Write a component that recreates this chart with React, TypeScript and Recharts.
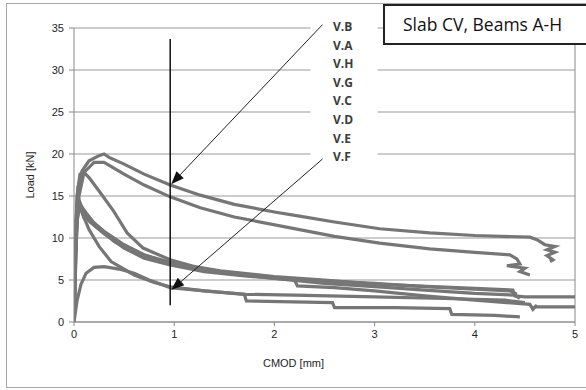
import {
  CartesianGrid,
  Line,
  LineChart,
  ReferenceArea,
  ReferenceLine,
  XAxis,
  YAxis,
} from 'recharts';

// CMOD [mm] / Load [kN], one pair of arrays per beam
const vbX = [0, 0.01, 0.02, 0.04, 0.08, 0.15, 0.25, 0.3, 0.35, 0.5, 0.7, 0.96, 1.26, 1.6, 2.0, 2.25, 2.6, 3.05, 3.55, 4.0, 4.55, 4.62, 4.7, 4.8, 4.72, 4.8, 4.72, 4.78, 4.75];
const vbY = [0, 5, 12, 16, 18, 19.2, 19.8, 20, 19.6, 18.8, 17.6, 16.3, 15.1, 14.0, 13.1, 12.6, 11.9, 11.1, 10.6, 10.3, 10.1, 9.8, 9.2, 9.0, 8.6, 8.3, 7.9, 7.4, 7.2];

const vaX = [0, 0.02, 0.05, 0.1, 0.2, 0.3, 0.5, 0.7, 0.96, 1.26, 1.6, 2.25, 2.6, 3.05, 3.55, 4.0, 4.35, 4.42, 4.45, 4.32, 4.5, 4.45, 4.55];
const vaY = [0, 10, 15, 17.8, 19.0, 19.0, 17.6, 16.3, 14.9, 13.6, 12.5, 11.0, 10.2, 9.4, 8.7, 8.3, 8.0, 7.5, 6.9, 6.7, 6.4, 6.0, 5.6];

const vhX = [0, 0.01, 0.03, 0.06, 0.1, 0.15, 0.25, 0.39, 0.53, 0.69, 0.96, 1.2, 1.46, 2.0, 2.5, 3.0, 4.0, 4.38, 4.4, 4.5, 5.0];
const vhY = [0, 8, 15, 17.6, 17.8, 17.2, 15.6, 13.3, 10.6, 8.8, 7.4, 6.6, 6.1, 5.4, 5.0, 4.5, 4.0, 3.8, 3.1, 3.0, 3.0];

const vgX = [0, 0.02, 0.04, 0.08, 0.1, 0.15, 0.3, 0.5, 0.7, 0.96, 1.3, 1.6, 2.0, 2.5, 3.0, 3.5, 4.0, 4.4, 4.45];
const vgY = [0, 9, 13.5, 13.2, 12.4, 12.3, 10.8, 9.2, 8.0, 7.0, 6.2, 5.7, 5.2, 4.6, 4.2, 3.8, 3.4, 3.2, 2.8];

const vcX = [0, 0.02, 0.05, 0.1, 0.15, 0.3, 0.5, 0.7, 0.96, 1.3, 1.7, 2.2, 2.23, 2.6, 3.0, 3.5, 4.0, 4.55, 4.58, 4.62, 4.6, 5.0];
const vcY = [0, 11, 14.5, 13, 12, 10.5, 8.8, 7.6, 6.8, 6.0, 5.5, 5.0, 4.3, 4.1, 3.7, 3.1, 2.6, 2.1, 1.5, 2.0, 1.8, 1.8];

const vdX = [0, 0.02, 0.04, 0.08, 0.15, 0.25, 0.37, 0.6, 0.8, 0.96, 1.3, 1.7, 2.2, 3.0, 3.7, 4.3, 4.5];
const vdY = [0, 12, 15, 13, 11, 9, 7.2, 5.6, 4.7, 4.2, 3.7, 3.3, 3.2, 3.0, 2.8, 2.6, 2.3];

const veX = [0, 0.03, 0.06, 0.12, 0.2, 0.4, 0.6, 0.96, 1.5, 2.0, 2.5, 3.0, 3.5, 4.0, 4.35, 4.42];
const veY = [0, 12, 14, 13, 11.8, 9.6, 8.3, 7.1, 5.9, 5.3, 4.9, 4.6, 4.2, 3.9, 3.7, 3.3];

const vfX = [0, 0.03, 0.07, 0.12, 0.2, 0.3, 0.45, 0.6, 0.75, 0.96, 1.3, 1.7, 1.72, 2.58, 2.6, 3.2, 3.75, 3.77, 4.2, 4.45];
const vfY = [0, 2.5, 4.5, 5.8, 6.5, 6.6, 6.3, 5.8, 5.0, 4.1, 3.7, 3.3, 2.5, 2.3, 1.7, 1.7, 1.6, 0.9, 0.8, 0.6];

const labels = ['V.B', 'V.A', 'V.H', 'V.G', 'V.C', 'V.D', 'V.E', 'V.F'];
const xTicks = [0, 1, 2, 3, 4, 5];
const yTicks = [0, 5, 10, 15, 20, 25, 30, 35];

const toPoints = (xs: number[], ys: number[]) => xs.map((x, i) => ({ x, y: ys[i] }));

const series = [
  { name: 'V.B', data: toPoints(vbX, vbY) },
  { name: 'V.A', data: toPoints(vaX, vaY) },
  { name: 'V.H', data: toPoints(vhX, vhY) },
  { name: 'V.G', data: toPoints(vgX, vgY) },
  { name: 'V.C', data: toPoints(vcX, vcY) },
  { name: 'V.D', data: toPoints(vdX, vdY) },
  { name: 'V.E', data: toPoints(veX, veY) },
  { name: 'V.F', data: toPoints(vfX, vfY) },
];

const tickFont = { fontFamily: 'Liberation Sans, Arial, sans-serif', fontSize: 11, fill: '#1e1e1e' };

function Arrow(props: any) {
  const { x1, y1, x2, y2 } = props;
  if ([x1, y1, x2, y2].some((v) => typeof v !== 'number')) return null;
  const ang = Math.atan2(y2 - y1, x2 - x1);
  const len = 13;
  const half = 5;
  const bx = x2 - len * Math.cos(ang);
  const by = y2 - len * Math.sin(ang);
  const px = -Math.sin(ang) * half;
  const py = Math.cos(ang) * half;
  return (
    <g>
      <line x1={x1} y1={y1} x2={bx} y2={by} stroke="#222" strokeWidth={1} />
      <polygon points={`${x2},${y2} ${bx + px},${by + py} ${bx - px},${by - py}`} fill="#111" />
    </g>
  );
}

export default function App() {
  return (
    <div
      style={{
        position: 'absolute',
        left: 0,
        top: 0,
        width: 586,
        height: 390,
        overflow: 'hidden',
        background: '#fff',
      }}
    >
      <div
        style={{
          position: 'absolute',
          left: 6,
          top: 3,
          width: 600,
          height: 383,
          border: '1px solid #a8a8a8',
        }}
      />
      <LineChart
        width={586}
        height={390}
        margin={{ top: 28, right: 11, bottom: 0, left: 0 }}
        style={{ position: 'absolute', left: 0, top: 0 }}
      >
        <CartesianGrid vertical={false} stroke="#999" strokeWidth={1} />
        <XAxis
          type="number"
          dataKey="x"
          domain={[0, 5]}
          ticks={xTicks}
          allowDataOverflow
          height={68}
          stroke="#888"
          tickSize={4}
          tickMargin={4}
          tick={tickFont}
          label={{
            value: 'CMOD [mm]',
            position: 'insideBottom',
            offset: 23,
            dx: -31,
            style: { ...tickFont, textAnchor: 'middle' },
          }}
        />
        <YAxis
          type="number"
          domain={[0, 35]}
          ticks={yTicks}
          allowDataOverflow
          width={74}
          stroke="#888"
          tickSize={5}
          tickMargin={5}
          tick={tickFont}
          label={{
            value: 'Load [kN]',
            angle: -90,
            position: 'insideLeft',
            offset: 30,
            style: { ...tickFont, textAnchor: 'middle' },
          }}
        />
        <ReferenceLine x={5} stroke="#888" />
        <ReferenceArea x1={2.36} x2={3.03} y1={18.8} y2={35.7} fill="#fff" fillOpacity={1} stroke="none" ifOverflow="visible" />
        {series.map((s) => (
          <Line
            key={s.name}
            data={s.data}
            dataKey="y"
            name={s.name}
            type="linear"
            stroke="#767676"
            strokeWidth={3.2}
            dot={false}
            activeDot={false}
            isAnimationActive={false}
          />
        ))}
        <ReferenceLine
          segment={[
            { x: 0.96, y: 2 },
            { x: 0.96, y: 33.7 },
          ]}
          stroke="#111"
          strokeWidth={1.5}
          ifOverflow="visible"
        />
        <ReferenceLine
          segment={[
            { x: 2.48, y: 35.4 },
            { x: 0.97, y: 16.4 },
          ]}
          ifOverflow="visible"
          shape={Arrow}
        />
        <ReferenceLine
          segment={[
            { x: 2.48, y: 19.4 },
            { x: 0.97, y: 3.8 },
          ]}
          ifOverflow="visible"
          shape={Arrow}
        />
      </LineChart>
      <div style={{ position: 'absolute', left: 333, top: 18 }}>
        {labels.map((l) => (
          <div
            key={l}
            style={{
              fontFamily: 'Open Sans, sans-serif',
              fontWeight: 700,
              fontSize: 12,
              lineHeight: '18.6px',
              color: '#3c3c3c',
            }}
          >
            {l}
          </div>
        ))}
      </div>
      <div
        style={{
          position: 'absolute',
          left: 383,
          top: 4,
          width: 230,
          height: 37,
          border: '2px solid #222',
          background: '#fff',
          fontFamily: 'Open Sans, sans-serif',
          fontSize: 17.5,
          lineHeight: '37px',
          paddingLeft: 18,
          color: '#111',
          boxSizing: 'content-box',
        }}
      >
        Slab CV, Beams A-H
      </div>
    </div>
  );
}
